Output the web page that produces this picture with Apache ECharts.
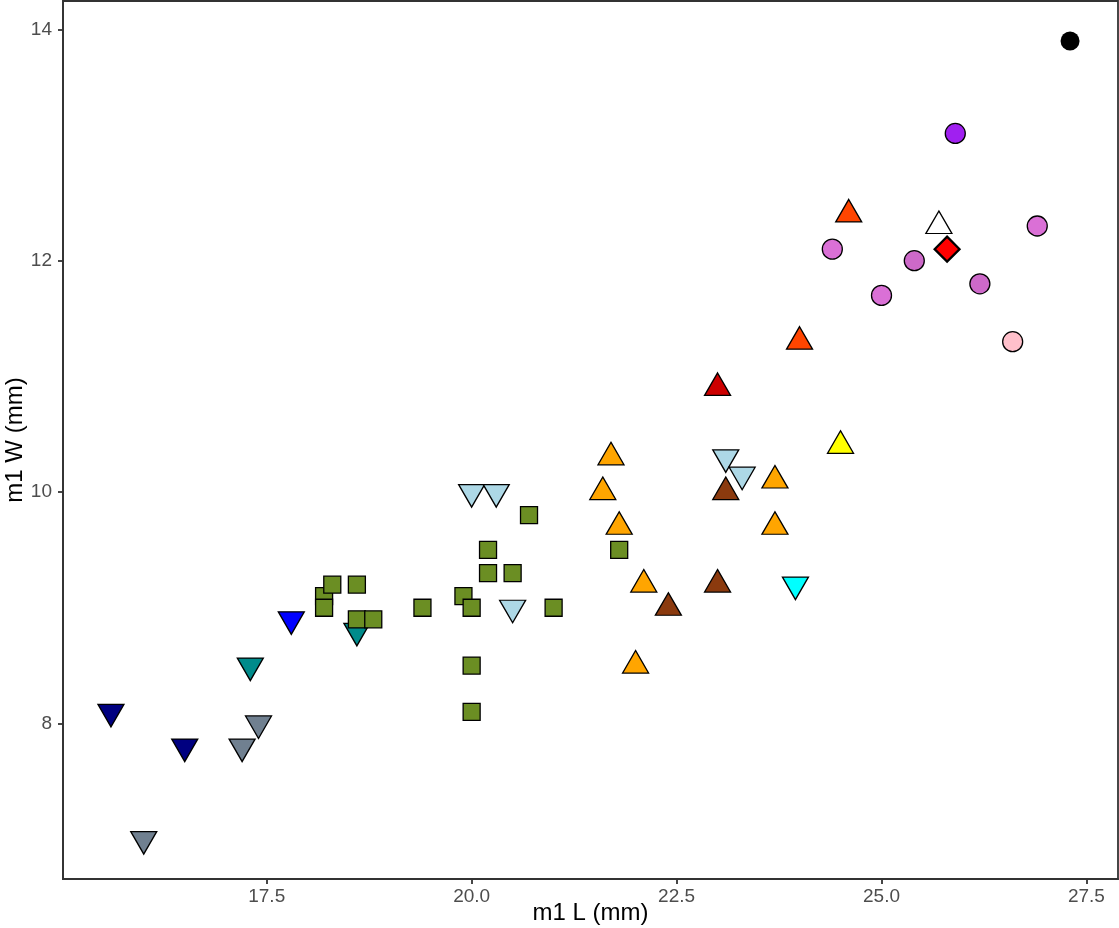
<!DOCTYPE html>
<html>
<head>
<meta charset="utf-8">
<script src="https://cdn.jsdelivr.net/npm/echarts@6/dist/echarts.min.js"></script>
<style>
  html, body { margin: 0; padding: 0; background: #fff; }
  #chart { width: 1119px; height: 928px; }
</style>
</head>
<body>
<div id="chart"></div>
<script>
// m1 length / width pairs, [L, W] in mm, one array per group
const navyDown      = [[15.6, 8.1], [16.5, 7.8]];
const slateDown     = [[16.0, 7.0], [17.2, 7.8], [17.4, 8.0]];
const tealDown      = [[17.3, 8.5], [18.6, 8.8]];
const blueDown      = [[17.8, 8.9]];
const lightblueDown = [[20.0, 10.0], [20.3, 10.0], [20.5, 9.0], [23.1, 10.3], [23.3, 10.15]];
const cyanDown      = [[23.95, 9.2]];
const greenSquares  = [
  [18.2, 9.1], [18.2, 9.0], [18.3, 9.2], [18.6, 9.2], [18.6, 8.9], [18.8, 8.9],
  [19.4, 9.0], [19.9, 9.1], [20.0, 9.0], [20.0, 8.5], [20.0, 8.1], [20.2, 9.5],
  [20.2, 9.3], [20.5, 9.3], [20.7, 9.8], [21.0, 9.0], [21.8, 9.5]
];
const orangeUp      = [[21.6, 10.0], [21.7, 10.3], [21.8, 9.7], [22.0, 8.5], [22.1, 9.2], [23.7, 10.1], [23.7, 9.7]];
const brownUp       = [[22.4, 9.0], [23.0, 9.2], [23.1, 10.0]];
const red3Up        = [[23.0, 10.9]];
const yellowUp      = [[24.5, 10.4]];
const orangeredUp   = [[24.0, 11.3], [24.6, 12.4]];
const whiteUp       = [[25.7, 12.3]];
const redDiamond    = [[25.8, 12.1]];
const orchidCircles = [[24.4, 12.1], [25.0, 11.7], [26.9, 12.3]];
const orchid3Circles = [[25.4, 12.0], [26.2, 11.8]];
const pinkCircles   = [[26.6, 11.3]];
const purpleCircles = [[25.9, 13.1]];
const blackCircles  = [[27.3, 13.9]];

const xTicks = [17.5, 20.0, 22.5, 25.0, 27.5];
const yTicks = [8, 10, 12, 14];

// filled triangles; offsets put the centroid on the data point
const TRI_UP = 'path://M1,0 L2,1.732 L0,1.732 Z';
const TRI_DOWN = 'path://M0,0 L2,0 L1,1.732 Z';
const triSize = [26, 22.5];
const triShift = triSize[1] / 6;

function layer(data, fill, kind) {
  const s = {
    type: 'scatter',
    data: data,
    itemStyle: { color: fill, borderColor: '#000', borderWidth: 1.3, opacity: 1 },
    emphasis: { disabled: true },
    animation: false
  };
  if (kind === 'up') {
    s.symbol = TRI_UP; s.symbolSize = triSize; s.symbolOffset = [0, -triShift];
  } else if (kind === 'down') {
    s.symbol = TRI_DOWN; s.symbolSize = triSize; s.symbolOffset = [0, triShift];
  } else if (kind === 'square') {
    s.symbol = 'rect'; s.symbolSize = 17;
  } else if (kind === 'diamond') {
    s.symbol = 'diamond'; s.symbolSize = 25; s.itemStyle.borderWidth = 2.2;
  } else if (kind === 'dot') {
    s.symbol = 'circle'; s.symbolSize = 19; s.itemStyle.borderWidth = 0;
  } else {
    s.symbol = 'circle'; s.symbolSize = 20;
  }
  return s;
}

const chart = echarts.init(document.getElementById('chart'), null, { renderer: 'canvas' });

const FONT = 'Liberation Sans, Arial, sans-serif';
const axisText = { color: '#4D4D4D', fontSize: 19, fontFamily: FONT };

chart.setOption({
  backgroundColor: '#fff',
  animation: false,
  grid: {
    left: 63, right: 1, top: 1, bottom: 49,
    outerBoundsMode: 'none',
    containLabel: false,
    show: true, borderColor: '#333', borderWidth: 1.8, backgroundColor: '#fff'
  },
  xAxis: {
    type: 'value',
    min: 15.015, max: 27.885,
    name: 'm1 L (mm)',
    nameLocation: 'middle',
    nameGap: 22,
    nameMoveOverlap: false,
    nameTextStyle: { color: '#000', fontSize: 24, fontFamily: FONT, verticalAlign: 'top' },
    splitLine: { show: false },
    axisLine: { show: true, onZero: false, lineStyle: { color: '#333', width: 1.8 } },
    axisTick: { show: true, length: 5, lineStyle: { color: '#333', width: 1.8 }, customValues: xTicks },
    axisLabel: Object.assign({ margin: 8, customValues: xTicks, formatter: v => v.toFixed(1) }, axisText)
  },
  yAxis: {
    type: 'value',
    min: 6.655, max: 14.245,
    name: 'm1 W (mm)',
    nameLocation: 'middle',
    nameGap: 36,
    nameMoveOverlap: false,
    nameRotate: 90,
    nameTextStyle: { color: '#000', fontSize: 24, fontFamily: FONT, verticalAlign: 'bottom' },
    splitLine: { show: false },
    axisLine: { show: true, onZero: false, lineStyle: { color: '#333', width: 1.8 } },
    axisTick: { show: true, length: 5, lineStyle: { color: '#333', width: 1.8 }, customValues: yTicks },
    axisLabel: Object.assign({ margin: 11, customValues: yTicks, formatter: v => String(v) }, axisText)
  },
  series: [
    layer(navyDown, '#000080', 'down'),
    layer(slateDown, '#708090', 'down'),
    layer(tealDown, '#008B8B', 'down'),
    layer(blueDown, '#0000FF', 'down'),
    layer(lightblueDown, '#ADD8E6', 'down'),
    layer(cyanDown, '#00FFFF', 'down'),
    layer(greenSquares, '#6B8E23', 'square'),
    layer(orangeUp, '#FFA500', 'up'),
    layer(brownUp, '#8B3A0E', 'up'),
    layer(red3Up, '#CD0000', 'up'),
    layer(yellowUp, '#FFFF00', 'up'),
    layer(orangeredUp, '#FF4500', 'up'),
    layer(whiteUp, '#FFFFFF', 'up'),
    layer(orchidCircles, '#DA70D6', 'circle'),
    layer(orchid3Circles, '#CD69C9', 'circle'),
    layer(pinkCircles, '#FFC0CB', 'circle'),
    layer(purpleCircles, '#A020F0', 'circle'),
    layer(blackCircles, '#000000', 'dot'),
    layer(redDiamond, '#FF0000', 'diamond')
  ]
});
</script>
</body>
</html>
